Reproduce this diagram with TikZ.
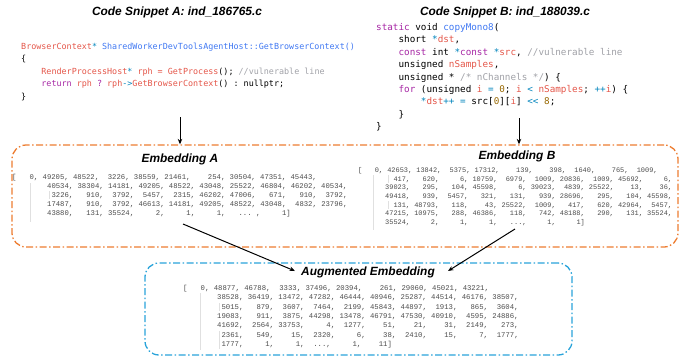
\documentclass[tikz,border=0pt]{standalone}
\usepackage{fontspec}
\setmainfont{Liberation Sans}
\setmonofont{Liberation Mono}
\newfontfamily\codefont{DejaVu Sans Mono}
\usetikzlibrary{arrows.meta}

\definecolor{embedorange}{RGB}{237,125,49}
\definecolor{augblue}{RGB}{41,163,218}
\definecolor{kwpurple}{HTML}{A626A4}
\definecolor{idred}{HTML}{E45649}
\definecolor{fnblue}{HTML}{4078F2}
\definecolor{opcyan}{HTML}{0184BC}
\definecolor{numbrown}{HTML}{986801}
\definecolor{cmtgray}{HTML}{A0A1A7}

\newcommand{\ckw}[1]{\textcolor{kwpurple}{#1}}
\newcommand{\cid}[1]{\textcolor{idred}{#1}}
\newcommand{\cfn}[1]{\textcolor{fnblue}{#1}}
\newcommand{\cop}[1]{\textcolor{opcyan}{#1}}
\newcommand{\cnum}[1]{\textcolor{numbrown}{#1}}
\newcommand{\ccmt}[1]{\textcolor{cmtgray}{#1}}
\newcommand{\skipdots}{...}

\tikzset{
    title/.style={font=\fontsize{11.9}{14}\selectfont\bfseries\itshape},
    code/.style={align=left, anchor=north west, inner sep=0pt},
    datarow/.style={text=black!70, anchor=base west, inner sep=0pt},
    embbox/.style={draw=embedorange, line width=1.3pt, rounded corners=14pt,
        dash pattern=on 7pt off 2.5pt on 1.5pt off 2.5pt},
    augbox/.style={embbox, draw=augblue},
    link/.style={-{Stealth[length=5.5pt,width=4.5pt]}, line width=1pt},
    guide/.style={draw=black!12, line width=0.4pt}
}

\begin{document}
\begin{tikzpicture}[x=1pt, y=-1pt]
    \useasboundingbox (0,0) rectangle (681,360);

    % snippet titles
    \node[title] (snipA) at (177,12) {Code Snippet A: ind\_186765.c};
    \node[title] (snipB) at (505,12) {Code Snippet B: ind\_188039.c};

    % code A
    \node[code, font=\fontsize{8.4}{12.5}\codefont\frenchspacing] (codeA) at (21,42.5) {%
        \cid{BrowserContext}\cop{*} \cfn{SharedWorkerDevToolsAgentHost::GetBrowserContext()}\\
        \{\\
        ~~~~\cid{RenderProcessHost}\cop{*} \cid{rph} \cid{=} \cid{GetProcess}(); \ccmt{//vulnerable line}\\
        ~~~~\ckw{return} \cid{rph} \ckw{?} \cid{rph}\cop{->}\cid{GetBrowserContext}() : nullptr;\\
        \}};

    % code B
    \node[code, font=\fontsize{9.3}{12.4}\codefont\frenchspacing] (codeB) at (376,23.2) {%
        \ckw{static} void \cfn{copyMono8}(\\
        ~~~~short \cop{*}\cid{dst},\\
        ~~~~\ckw{const} int \cop{*}\ckw{const} \cop{*}\cid{src}, \ccmt{//vulnerable line}\\
        ~~~~unsigned \cid{nSamples},\\
        ~~~~unsigned * \ccmt{/* nChannels */}) \{\\
        ~~~~\ckw{for} (unsigned \cid{i} \cop{=} \cnum{0}; \cid{i} \cop{<} \cid{nSamples}; \cop{++}\cid{i}) \{\\
        ~~~~~~~~\cop{*}\cid{dst}\cop{++} \cop{=} src[\cnum{0}][\cid{i}] \cop{<<} \cnum{8};\\
        ~~~~\}\\
        \}};

    % embedding boxes
    \node[embbox, minimum width=666pt, minimum height=102pt] (embBox) at (345,196) {};
    \node[augbox, minimum width=427pt, minimum height=92pt] (augBox) at (358.5,309) {};

    \node[title] (embATitle) at (180,159) {Embedding A};
    \node[title] (embBTitle) at (517,156) {Embedding B};
    \node[title] (augTitle) at (368,272) {Augmented Embedding};

    % faint indent guides
    \foreach \gx/\gy/\gz in {30/183/222, 49/191/199, 373/175/230, 388/175/183,
        388/201/209, 200/293/350, 219/303/311, 219/331/349}
        \draw[guide] (\gx,\gy) -- (\gx,\gz);

    % embedding A
    \begin{scope}[font=\fontsize{7.25}{9}\ttfamily\frenchspacing]
        \node[datarow] (dataA0) at (12,179.5)
            {[~~~0, 49205, 48522, ~3226, 38559, 21461, ~~~254, 30504, 47351, 45443,};
        \foreach \row [count=\i] in {
            {40534, 38304, 14181, 49205, 48522, 43048, 25522, 46804, 46202, 40534,},
            {~3226, ~~910, ~3792, ~5457, ~2315, 46202, 47006, ~~671, ~~910, ~3792,},
            {17487, ~~910, ~3792, 46613, 14181, 49205, 48522, 43048, ~4832, 23796,},
            {43880, ~~131, 35524, ~~~~2, ~~~~1, ~~~~1, ~~\skipdots{} , ~~~~1]}}
            \node[datarow] (dataA\i) at (47,179.5+9.1*\i) {\row};
    \end{scope}

    % embedding B
    \begin{scope}[font=\fontsize{6.93}{9}\ttfamily\frenchspacing]
        \node[datarow] (dataB0) at (358,172.4)
            {[~~~0, 42653, 13842, ~5375, 17312, ~~~139, ~~~398, ~1640, ~~~765, ~1009,};
        \foreach \row [count=\i] in {
            {~~417, ~~620, ~~~~6, 10759, ~6979, ~1009, 20836, ~1009, 45692, ~~~~6,},
            {39023, ~~295, ~~104, 45598, ~~~~6, 39023, ~4839, 25522, ~~~13, ~~~36,},
            {49418, ~~939, ~5457, ~~321, ~~131, ~~939, 28696, ~~295, ~~104, 45598,},
            {~~131, 48793, ~~118, ~~~43, 25522, ~1009, ~~417, ~~620, 42964, ~5457,},
            {47215, 10975, ~~288, 46386, ~~118, ~~742, 48188, ~~290, ~~131, 35524,},
            {35524, ~~~~2, ~~~~1, ~~~~1, ~~\skipdots, ~~~~1, ~~~~1]}}
            \node[datarow] (dataB\i) at (385,172.4+8.7*\i) {\row};
    \end{scope}

    % augmented embedding
    \begin{scope}[font=\fontsize{7.28}{9}\ttfamily\frenchspacing]
        \node[datarow] (dataC0) at (183,290.5)
            {[~~~0, 48877, 46788, ~3333, 37496, 20394, ~~~261, 29060, 45021, 43221,};
        \foreach \row [count=\i] in {
            {38528, 36419, 13472, 47282, 46444, 40946, 25287, 44514, 46176, 38507,},
            {~5015, ~~879, ~3607, ~7464, ~2199, 45843, 44897, ~1913, ~~865, ~3604,},
            {19083, ~~911, ~3875, 44298, 13478, 46791, 47530, 40910, ~4595, 24886,},
            {41692, ~2564, 33753, ~~~~4, ~1277, ~~~51, ~~~21, ~~~31, ~2149, ~~273,},
            {~2361, ~~549, ~~~15, ~2320, ~~~~6, ~~~38, ~2410, ~~~15, ~~~~7, ~1777,},
            {~1777, ~~~~1, ~~~~1, ~\skipdots, ~~~~1, ~~~11]}}
            \node[datarow] (dataC\i) at (217,290.5+9.33*\i) {\row};
    \end{scope}

    % connectors
    \coordinate (outCodeA) at (180,117);
    \coordinate (outCodeB) at (519,118);
    \coordinate (outEmbA) at (183,224);
    \coordinate (outEmbB) at (515,229);
    \coordinate (inAugA) at (295,271);
    \coordinate (inAugB) at (448,271);
    \draw[link] (outCodeA) -- (outCodeA |- embBox.north);
    \draw[link] (outCodeB) -- (outCodeB |- embBox.north);
    \draw[link] (outEmbA) -- (inAugA);
    \draw[link] (outEmbB) -- (inAugB);
\end{tikzpicture}
\end{document}
